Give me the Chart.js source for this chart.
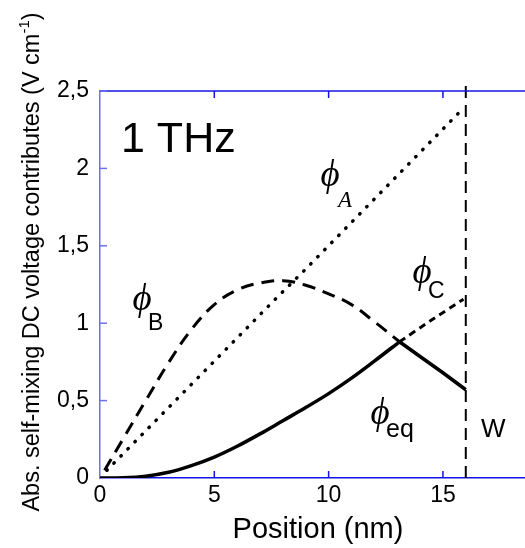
<!DOCTYPE html>
<html>
<head>
<meta charset="utf-8">
<script src="https://cdn.jsdelivr.net/npm/chart.js@4"></script>
<style>
  html, body { margin: 0; padding: 0; background: #fff; }
  canvas { display: block; }
</style>
</head>
<body>
<canvas id="chart" width="525" height="548"></canvas>
<script>
// values (position in nm, contribution in V/cm)
var phiAPos = [0.3, 3.7, 7.7, 9.0, 15.9];
var phiAVal = [0.05, 0.56, 1.16, 1.35, 2.39];

var phiBPos = [0.2, 1, 2, 3, 4, 5, 6, 7, 8, 9, 10, 11, 12, 13.1];
var phiBVal = [0.05, 0.25, 0.50, 0.745, 0.96, 1.12, 1.215, 1.26, 1.275, 1.245, 1.19, 1.12, 1.01, 0.88];

var phiCPos = [13.1, 14.5, 15.9];
var phiCVal = [0.88, 1.02, 1.155];

// phi eq rises up to the crossing, then falls towards W
var phiEqRisePos = [0, 1, 2, 3, 4, 5, 6, 7, 8, 9, 10, 11, 12, 13.1];
var phiEqRiseVal = [0, 0.002, 0.012, 0.037, 0.08, 0.135, 0.205, 0.285, 0.37, 0.455, 0.545, 0.645, 0.755, 0.88];
var phiEqFallPos = [13.1, 14, 15, 16];
var phiEqFallVal = [0.88, 0.785, 0.68, 0.57];

var wallPos = [16, 16];
var wallVal = [0, 2.57];

var xTicks = [0, 5, 10, 15];
var yTicks = [0, 0.5, 1, 1.5, 2, 2.5];

function pts(xs, ys) {
  return xs.map(function (x, i) {
    return { x: x, y: ys[i] };
  });
}

var SANS = '"Liberation Sans", Arial, sans-serif';
var SERIF = '"Liberation Serif", "DejaVu Serif", serif';
var AXIS_DARK = "#1414e6";
var AXIS_LIGHT = "#6f6ff0";

// inward ticks, top frame line and all the annotations
var decorations = {
  id: "decorations",
  afterDraw: function (chart) {
    var c = chart.ctx;
    var a = chart.chartArea;
    var xs = chart.scales.x;
    var ys = chart.scales.y;
    c.save();

    c.lineWidth = 1.5;
    c.strokeStyle = AXIS_DARK;
    c.beginPath();
    c.moveTo(a.left, a.top);
    c.lineTo(a.right, a.top);
    c.stroke();

    xTicks.slice(1).forEach(function (v) {
      var px = xs.getPixelForValue(v);
      c.beginPath();
      c.moveTo(px, a.bottom);
      c.lineTo(px, a.bottom - 7);
      c.moveTo(px, a.top);
      c.lineTo(px, a.top + 7);
      c.stroke();
    });
    c.strokeStyle = AXIS_LIGHT;
    yTicks.slice(1).forEach(function (v) {
      var py = ys.getPixelForValue(v);
      c.beginPath();
      c.moveTo(a.left, py);
      c.lineTo(a.left + 7, py);
      c.stroke();
    });

    c.fillStyle = "#000";
    c.textBaseline = "alphabetic";
    c.textAlign = "left";

    c.font = "43px " + SANS;
    c.fillText("1 THz", 121, 152);

    // phi labels
    c.textBaseline = "middle";
    c.textAlign = "center";
    c.font = "italic 37px " + SERIF;
    c.fillText("\u03D5", 330, 176);
    c.fillText("\u03D5", 142, 300);
    c.fillText("\u03D5", 422, 273);
    c.fillText("\u03D5", 380, 414);

    c.textBaseline = "alphabetic";
    c.textAlign = "left";
    c.font = "italic 23px " + SERIF;
    c.fillText("A", 338, 207);
    c.font = "23px " + SANS;
    c.fillText("B", 148, 330);
    c.fillText("C", 428, 298);
    c.font = "25px " + SANS;
    c.fillText("eq", 386, 437);
    c.font = "26px " + SANS;
    c.fillText("W", 481, 437);

    c.textAlign = "center";
    c.font = "29px " + SANS;
    c.fillText("Position (nm)", 318, 538);

    // rotated y title with a superscript
    var main = "Abs. self-mixing DC voltage contributes (V cm";
    var sup = "-1";
    var close = ")";
    c.font = "23.5px " + SANS;
    var wMain = c.measureText(main).width;
    var wClose = c.measureText(close).width;
    c.font = "15px " + SANS;
    var wSup = c.measureText(sup).width;
    var total = wMain + wSup + wClose;
    c.translate(39, 262);
    c.rotate(-Math.PI / 2);
    c.textAlign = "left";
    var sx = -total / 2;
    c.font = "23.5px " + SANS;
    c.fillText(main, sx, 0);
    c.font = "15px " + SANS;
    c.fillText(sup, sx + wMain, -10);
    c.font = "23.5px " + SANS;
    c.fillText(close, sx + wMain + wSup, 0);

    c.restore();
  },
};

var ctx = document.getElementById("chart");
var chart = new Chart(ctx, {
  type: "line",
  data: {
    datasets: [
      {
        label: "phi eq",
        data: pts(phiEqRisePos, phiEqRiseVal),
        borderColor: "#000",
        borderWidth: 3.5,
        cubicInterpolationMode: "monotone",
        pointRadius: 0,
      },
      {
        label: "phi eq (falling)",
        data: pts(phiEqFallPos, phiEqFallVal),
        borderColor: "#000",
        borderWidth: 3.5,
        tension: 0,
        pointRadius: 0,
      },
      {
        label: "phi B",
        data: pts(phiBPos, phiBVal),
        borderColor: "#000",
        borderWidth: 3,
        borderDash: [13, 8],
        tension: 0.4,
        pointRadius: 0,
      },
      {
        label: "phi C",
        data: pts(phiCPos, phiCVal),
        borderColor: "#000",
        borderWidth: 3,
        borderDash: [7, 5],
        tension: 0.2,
        pointRadius: 0,
      },
      {
        label: "phi A",
        data: pts(phiAPos, phiAVal),
        borderColor: "#000",
        borderWidth: 3.5,
        borderDash: [0.5, 9.5],
        borderCapStyle: "round",
        tension: 0,
        pointRadius: 0,
      },
      {
        label: "W",
        data: pts(wallPos, wallVal),
        borderColor: "#000",
        borderWidth: 2,
        borderDash: [12, 7],
        pointRadius: 0,
        clip: false,
      },
    ],
  },
  options: {
    responsive: false,
    animation: false,
    layout: { padding: { top: 91, right: 0, left: 0, bottom: 0 } },
    plugins: {
      legend: { display: false },
      tooltip: { enabled: false },
    },
    scales: {
      x: {
        type: "linear",
        min: 0,
        max: 18.59,
        afterFit: function (s) {
          s.height = 70;
        },
        grid: { display: false, drawTicks: false },
        border: { display: true, color: AXIS_DARK, width: 1.5 },
        ticks: {
          stepSize: 5,
          includeBounds: false,
          padding: 4,
          color: "#000",
          font: { family: SANS, size: 23 },
        },
      },
      y: {
        type: "linear",
        min: 0,
        max: 2.5,
        afterFit: function (s) {
          s.width = 100;
        },
        grid: { display: false, drawTicks: false },
        border: { display: true, color: AXIS_LIGHT, width: 1.5 },
        ticks: {
          stepSize: 0.5,
          padding: 11,
          color: "#000",
          font: { family: SANS, size: 23 },
          callback: function (v) {
            return String(v).replace(".", ",");
          },
        },
      },
    },
  },
  plugins: [decorations],
});
</script>
</body>
</html>
